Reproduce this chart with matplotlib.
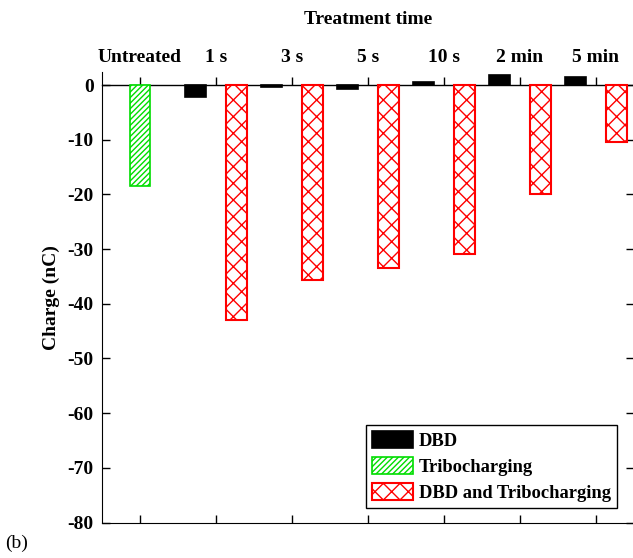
import numpy as np
import matplotlib
matplotlib.use("Agg")
import matplotlib.pyplot as plt

# data
categories = ["Untreated", "1 s", "3 s", "5 s", "10 s", "2 min", "5 min"]
dbd = [0.0, -2.2, -0.4, -0.7, 0.5, 1.8, 1.5]
tribo = [-18.4]
dbd_tribo = [-43.0, -35.6, -33.5, -30.8, -19.9, -10.4]

plt.rcParams['font.family'] = ['Liberation Serif', 'DejaVu Serif']
plt.rcParams['font.weight'] = 'bold'
plt.rcParams['font.size'] = 14
plt.rcParams['hatch.linewidth'] = 1.0
plt.rcParams['axes.unicode_minus'] = False

x = np.arange(len(categories))
w = 0.27
off = 0.27

fig = plt.figure(figsize=(6.33, 5.58), dpi=100)
ax = fig.add_axes([102 / 633, 1 - 522.5 / 558, 532 / 633, (522.5 - 72) / 558])

# DBD only (no bar for untreated)
ax.bar(x[1:] - off, dbd[1:], w, color='black', edgecolor='black', lw=1.2,
       label='DBD', zorder=2)
ax.bar(x[:1], tribo, w, color='white', edgecolor='#00dd00', hatch='//////',
       lw=1.2, label='Tribocharging', zorder=2)
ax.bar(x[1:] + off, dbd_tribo, w, color='white', edgecolor='red', hatch='xx',
       lw=1.5, label='DBD and Tribocharging', zorder=2)

ax.set_xlim(-0.5, 6.5)
ymin, ymax = -80, 2.4
ax.set_ylim(ymin, ymax)
ax.set_yticks(np.arange(-80, 1, 10))
ax.set_ylabel("Charge (nC)", fontweight='bold', labelpad=5)

ax.spines['top'].set_visible(False)
ax.set_xticks(x)
ax.tick_params(axis='x', bottom=True, top=False, labelbottom=False,
               direction='in', length=6, width=1)
ax.tick_params(axis='y', left=True, right=True, direction='in',
               length=6, width=1, pad=6)

# category axis sitting on the zero line
zpos = (0 - ymin) / (ymax - ymin)
sec = ax.secondary_xaxis(zpos)
sec.set_xticks(x, categories)
sec.tick_params(direction='out', length=6, width=1, pad=8)
for s in sec.spines.values():
    s.set_linewidth(1)
sec.set_xlabel("Treatment time", fontweight='bold', labelpad=18)

leg = ax.legend(loc='upper left', bbox_to_anchor=(366 / 633, 1 - 425 / 558),
                bbox_transform=fig.transFigure, fancybox=False,
                edgecolor='black', framealpha=1, borderaxespad=0,
                borderpad=0.35, handlelength=2.2, handleheight=1.0,
                handletextpad=0.3, labelspacing=0.4, fontsize=13.3)
leg.get_frame().set_linewidth(1)

fig.text(5 / 633, 1 - 543 / 558, "(b)", fontweight='normal', fontsize=14,
         va='center', ha='left')

fig.savefig("out.png", dpi=100)
